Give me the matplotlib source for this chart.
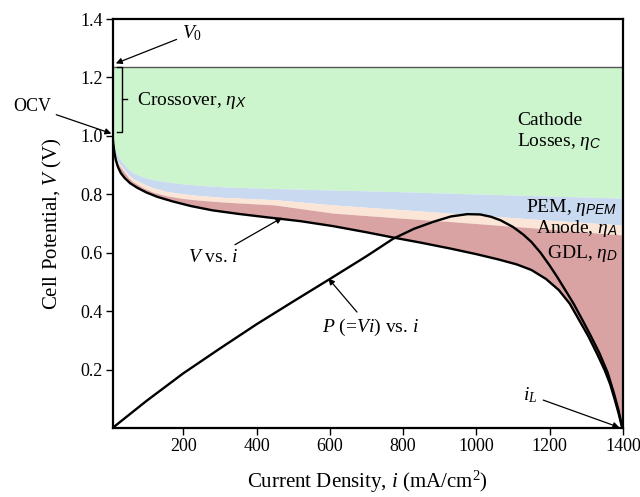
import matplotlib
matplotlib.use("Agg")
import matplotlib.pyplot as plt
import numpy as np

plt.rcParams['font.family'] = ['Liberation Serif', 'DejaVu Serif']
plt.rcParams['mathtext.fontset'] = 'custom'
plt.rcParams['mathtext.rm'] = 'Liberation Serif'
plt.rcParams['mathtext.it'] = 'Liberation Serif:italic'
plt.rcParams['mathtext.sf'] = 'Liberation Sans:italic'

# thermodynamic potential V0 (V)
v0 = 1.235

# cell polarization curve V vs i
i_v = [7, 9, 12, 16, 22, 30, 40, 55, 75, 100, 130, 170, 220, 280, 350, 430,
       520, 609, 700, 773, 850, 930, 1000, 1060, 1110, 1150, 1190, 1225,
       1255, 1280, 1305, 1330, 1350, 1365, 1378, 1388, 1395, 1398]
v_cell = [1.00, 0.975, 0.945, 0.918, 0.893, 0.872, 0.856, 0.838, 0.822, 0.806,
          0.791, 0.776, 0.760, 0.745, 0.733, 0.721, 0.708, 0.691, 0.670, 0.652,
          0.634, 0.614, 0.595, 0.577, 0.560, 0.541, 0.510, 0.472, 0.425, 0.370,
          0.315, 0.252, 0.198, 0.150, 0.095, 0.050, 0.015, 0.0]

# upper boundaries of the loss layers
i_layer = [7, 10, 14, 22, 36, 50, 63, 90, 120, 156, 200, 246, 320, 450, 609,
           770, 929, 1150, 1400]
pem_top = [1.00, 0.975, 0.957, 0.930, 0.906, 0.886, 0.872, 0.858, 0.848, 0.841,
           0.834, 0.829, 0.823, 0.818, 0.813, 0.808, 0.802, 0.794, 0.785]
anode_top = [1.00, 0.968, 0.945, 0.912, 0.889, 0.868, 0.853, 0.836, 0.820, 0.808,
             0.800, 0.794, 0.787, 0.780, 0.762, 0.748, 0.734, 0.714, 0.693]
gdl_top = [1.00, 0.962, 0.939, 0.905, 0.882, 0.858, 0.842, 0.822, 0.805, 0.793,
           0.784, 0.778, 0.771, 0.762, 0.734, 0.719, 0.705, 0.684, 0.659]

# power curve (scaled to the voltage axis)
i_p = [7, 100, 200, 300, 400, 500, 600, 700, 773, 830, 883, 930, 975, 1010,
       1040, 1066, 1100, 1128, 1150, 1175, 1200, 1221, 1245, 1265, 1290, 1311,
       1335, 1358, 1375, 1388, 1396, 1399]
p_scaled = [0.0, 0.093, 0.187, 0.272, 0.355, 0.433, 0.510, 0.588, 0.648, 0.682,
            0.706, 0.724, 0.732, 0.731, 0.723, 0.711, 0.688, 0.662, 0.637, 0.600,
            0.556, 0.516, 0.467, 0.426, 0.368, 0.318, 0.258, 0.190, 0.120, 0.060,
            0.012, 0.0]

i_v, v_cell = np.array(i_v), np.array(v_cell)
i_layer = np.array(i_layer)
gdl_top, anode_top, pem_top = map(np.array, (gdl_top, anode_top, pem_top))

fig = plt.figure(figsize=(6.4, 4.97), dpi=100)
ax = fig.add_axes([112.5 / 640, 1 - 428 / 497, (623 - 112.5) / 640, (428 - 19) / 497])

def band(x_low, y_low, x_high, y_high, color):
    xs = np.concatenate([x_low, x_high[::-1]])
    ys = np.concatenate([y_low, y_high[::-1]])
    ax.fill(xs, ys, color=color, lw=0, zorder=1)

band(i_layer, pem_top, i_layer[[0, -1]], np.array([v0, v0]), '#cdf5cd')
band(i_layer, anode_top, i_layer, pem_top, '#c9d9ef')
band(i_layer, gdl_top, i_layer, anode_top, '#fbe5d6')
band(np.append(i_v, 1400), np.append(v_cell, 0.0), i_layer, gdl_top, '#d9a3a3')
ax.plot(i_layer[[0, -1]], [v0, v0], color='#555555', lw=1.0, zorder=2)

ax.plot(i_v, v_cell, color='black', lw=1.7, zorder=3, solid_joinstyle='round')
ax.plot(i_p, p_scaled, color='black', lw=1.7, zorder=3, solid_joinstyle='round')

ax.set_xlim(7, 1400)
ax.set_ylim(0, 1.4)
ax.set_xticks([200, 400, 600, 800, 1000, 1200, 1400])
ax.set_yticks([0.2, 0.4, 0.6, 0.8, 1.0, 1.2, 1.4])
ax.set_yticklabels(['0.2', '0.4', '0.6', '0.8', '1.0', '1.2', '1.4'])
ax.tick_params(direction='out', length=5, width=1, labelsize=13, pad=2)
for s in ax.spines.values():
    s.set_linewidth(1.6)

ax.set_xlabel('Current Density, $i$ (mA/cm$^2$)', fontsize=15, labelpad=10)
ax.set_ylabel('Cell Potential, $V$ (V)', fontsize=15, labelpad=12)

arrow = dict(arrowstyle='-|>', color='black', lw=0.9, mutation_scale=9,
             shrinkA=2, shrinkB=0)
fs = 14

ax.annotate('$V_0$', xy=(16, 1.248), xytext=(224, 1.351), fontsize=fs,
            ha='center', va='center', arrowprops=arrow, annotation_clip=False)
ax.annotate('OCV', xy=(4, 1.008), xytext=(-213, 1.101), fontsize=13,
            ha='center', va='center', arrowprops=arrow, annotation_clip=False)
ax.annotate('$V$ vs. $i$', xy=(470, 0.720), xytext=(281, 0.584), fontsize=fs,
            ha='center', va='center', arrowprops=arrow)
ax.annotate('$P$ (=$Vi$) vs. $i$', xy=(596, 0.512), xytext=(710, 0.344),
            fontsize=fs, ha='center', va='center', arrowprops=arrow)
ax.annotate('$i_L$', xy=(1390, 0.002), xytext=(1148, 0.111), fontsize=fs,
            ha='center', va='center', arrowprops=arrow)

# crossover bracket
ax.plot([19, 33, 33, 19], [v0, v0, 1.012, 1.012], color='black', lw=1.0, zorder=4)
ax.plot([33, 46], [1.125, 1.125], color='black', lw=1.0, zorder=4)
ax.text(74, 1.122, r'Crossover, $\eta_{\mathsf{X}}$', fontsize=fs, ha='left', va='center')

ax.text(1112, 1.014, 'Cathode\nLosses, $\\eta_{\\mathsf{C}}$', fontsize=fs,
        ha='left', va='center', linespacing=1.15)
ax.text(1385, 0.755, r'PEM, $\eta_{\mathsf{PEM}}$', fontsize=fs, ha='right', va='center')
ax.text(1385, 0.682, r'Anode, $\eta_{\mathsf{A}}$', fontsize=fs, ha='right', va='center')
ax.text(1385, 0.598, r'GDL, $\eta_{\mathsf{D}}$', fontsize=fs, ha='right', va='center')

fig.savefig('out.png', dpi=100)
